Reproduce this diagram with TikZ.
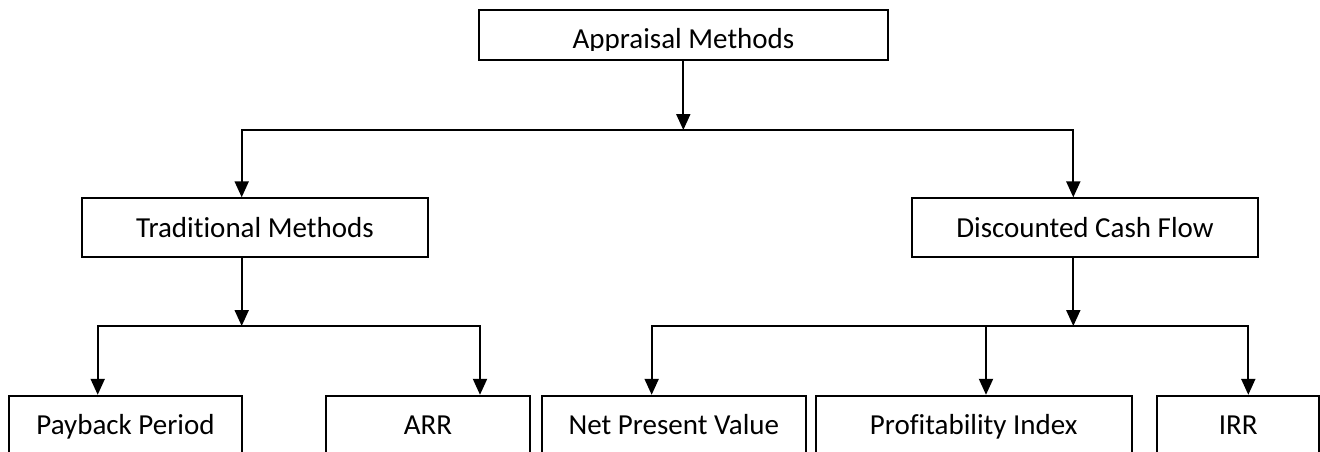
\documentclass[tikz,border=0pt]{standalone}
\usepackage{fontspec}
\setmainfont{Carlito}[Ligatures=NoCommon]
\usetikzlibrary{arrows.meta}

\begin{document}
\begin{tikzpicture}[
    x=1pt, y=-1pt,
    label font/.style={font=\fontsize{29}{34}\selectfont},
    box/.style={rectangle, draw=black, line width=2pt, minimum height=58.4pt, inner sep=0pt, text height=19.3pt, text depth=0pt, label font},
    arrow/.style={-{Triangle[length=16pt, width=14pt]}, line width=2pt}
]
    \useasboundingbox (0,0) rectangle (1320,451);
    \clip (0,0) rectangle (1320,451);

    \node[box, minimum width=408.7pt, minimum height=50pt] (app) at (683.65,35) {};
    \begin{scope}
        \clip (470,0) rectangle (900,50);
        \node[label font, anchor=base, inner sep=0pt] (appt) at (683.5,48.3) {Appraisal Methods};
    \end{scope}

    \node[box, minimum width=346.6pt] (trad) at (255,227.5) {Traditional Methods};
    \node[box, minimum width=346.6pt] (dcf) at (1085,227.5) {Discounted Cash Flow};

    \node[box, minimum width=232.4pt] (pb) at (125.5,425) {Payback Period};
    \node[box, minimum width=204pt] (arr) at (428,425) {ARR};
    \node[box, minimum width=264.3pt] (npv) at (673.85,425) {Net Present Value};
    \node[box, minimum width=316pt] (pi) at (973.7,425) {Profitability Index};
    \node[box, minimum width=162pt] (irr) at (1238.3,425) {IRR};

    \coordinate (jt) at (683.3,130);
    \coordinate (jl) at (241.7,326);
    \coordinate (jr) at (1073.3,326);

    \draw[arrow] (jt |- app.south) -- (jt);
    \draw[arrow] (jt) -| ([xshift=-13.3pt]trad.north);
    \draw[arrow] (jt) -| ([xshift=-11.7pt]dcf.north);

    \draw[arrow] ([xshift=-13.3pt]trad.south) -- (jl);
    \draw[arrow] (jl) -| ([xshift=-27.8pt]pb.north);
    \draw[arrow] (jl) -| ([xshift=52pt]arr.north);

    \draw[arrow] ([xshift=-11.7pt]dcf.south) -- (jr);
    \draw[arrow] (jr) -| ([xshift=-22.2pt]npv.north);
    \draw[arrow] (jr) -| ([xshift=12.3pt]pi.north);
    \draw[arrow] (jr) -| ([xshift=10pt]irr.north);
\end{tikzpicture}
\end{document}
